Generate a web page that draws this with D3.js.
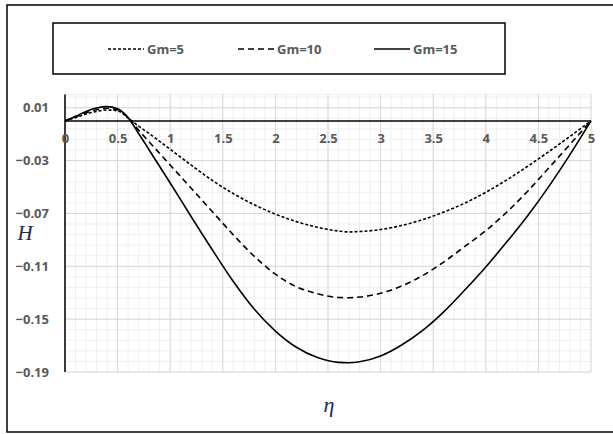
<!DOCTYPE html>
<html>
<head>
<meta charset="utf-8">
<script src="https://cdn.jsdelivr.net/npm/d3@7"></script>
<style>
  html, body { margin: 0; padding: 0; background: #fff; }
  svg { display: block; }
</style>
</head>
<body>
<svg id="chart" width="613" height="434"></svg>
<script>
// eta positions shared by all series
const eta = [0, 0.1, 0.2, 0.3, 0.4, 0.5, 0.6, 0.7, 0.8, 0.9, 1.0, 1.2, 1.4, 1.6, 1.8, 2.0,
             2.2, 2.4, 2.6, 2.7, 2.8, 3.0, 3.2, 3.4, 3.6, 3.8, 4.0, 4.2, 4.4, 4.6, 4.8, 5.0];

// H(eta) for each Grashof number
const gm5  = [0, 0.0025, 0.0052, 0.0072, 0.0083, 0.0077, 0.0022, -0.0040, -0.0095, -0.0155, -0.0215,
              -0.0335, -0.0450, -0.0550, -0.0635, -0.0705, -0.0762, -0.0805, -0.0833, -0.0840, -0.0837,
              -0.0822, -0.0791, -0.0747, -0.0690, -0.0622, -0.0540, -0.0446, -0.0342, -0.0232, -0.0117, 0];
const gm10 = [0, 0.0030, 0.0062, 0.0085, 0.0096, 0.0085, 0.0025, -0.0070, -0.0158, -0.0246, -0.0334,
              -0.0510, -0.0686, -0.0862, -0.1025, -0.1160, -0.1255, -0.1308, -0.1336, -0.1338, -0.1333,
              -0.1304, -0.1249, -0.1170, -0.1068, -0.0950, -0.0830, -0.0690, -0.0530, -0.0355, -0.0178, 0];
const gm15 = [0, 0.0035, 0.0072, 0.0098, 0.0108, 0.0092, 0.0025, -0.0095, -0.0220, -0.0345, -0.0470,
              -0.0725, -0.0975, -0.1215, -0.1425, -0.1590, -0.1713, -0.1791, -0.1827, -0.1830, -0.1823,
              -0.1779, -0.1696, -0.1585, -0.1445, -0.1280, -0.1105, -0.0915, -0.0715, -0.0495, -0.0255, 0];

const seriesNames = ["Gm=5", "Gm=10", "Gm=15"];
const xTicks = [0, 0.5, 1, 1.5, 2, 2.5, 3, 3.5, 4, 4.5, 5];
const yTicks = [0.01, -0.03, -0.07, -0.11, -0.15, -0.19];

const series = [
  { name: seriesNames[0], values: gm5,  dash: "3,2", width: 1.6 },
  { name: seriesNames[1], values: gm10, dash: "6,4", width: 1.6 },
  { name: seriesNames[2], values: gm15, dash: null,  width: 1.6 }
];

const svg = d3.select("#chart");
const tickColor = "#595959";
const tickFont = "'Open Sans', 'Liberation Sans', sans-serif";

// outer frame (right edge runs past the canvas)
svg.append("rect")
  .attr("x", 7).attr("y", 5).attr("width", 620).attr("height", 427)
  .attr("fill", "none").attr("stroke", "#000").attr("stroke-width", 1.5);

// plot scales
const x = d3.scaleLinear().domain([0, 5]).range([65, 591]);
const y = d3.scaleLinear().domain([-0.19, 0.02]).range([372, 94.5]);

const plot = svg.append("g");

// minor grid
const xMinor = d3.range(0, 5.0001, 0.1);
const yMinor = d3.range(-0.19, 0.0201, 0.008);
plot.append("g").selectAll("line").data(xMinor).join("line")
  .attr("x1", d => x(d)).attr("x2", d => x(d))
  .attr("y1", y(0.02)).attr("y2", y(-0.19))
  .attr("stroke", "#efefef").attr("stroke-width", 1);
plot.append("g").selectAll("line").data(yMinor.concat([0.02])).join("line")
  .attr("x1", x(0)).attr("x2", x(5))
  .attr("y1", d => y(d)).attr("y2", d => y(d))
  .attr("stroke", "#efefef").attr("stroke-width", 1);

// major grid
plot.append("g").selectAll("line").data(xTicks).join("line")
  .attr("x1", d => x(d)).attr("x2", d => x(d))
  .attr("y1", y(0.02)).attr("y2", y(-0.19))
  .attr("stroke", "#d9d9d9").attr("stroke-width", 1);
plot.append("g").selectAll("line").data(yTicks).join("line")
  .attr("x1", x(0)).attr("x2", x(5))
  .attr("y1", d => y(d)).attr("y2", d => y(d))
  .attr("stroke", "#d9d9d9").attr("stroke-width", 1);

// axes: vertical at eta=0, horizontal at H=0
const yAxis = d3.axisLeft(y).tickValues(yTicks).tickSize(0).tickPadding(16)
  .tickFormat(d3.format(".2f"));
const gy = plot.append("g").attr("transform", `translate(${x(0)},0)`).call(yAxis);
gy.select(".domain").remove();
gy.append("line").attr("x1", 0).attr("x2", 0).attr("y1", y(0.02)).attr("y2", y(-0.19))
  .attr("stroke", "#000").attr("stroke-width", 1.5);
gy.selectAll(".tick text")
  .attr("fill", tickColor).style("font-family", tickFont)
  .style("font-size", "13px").style("font-weight", "700");

const xAxis = d3.axisBottom(x).tickValues(xTicks).tickSize(0).tickPadding(13)
  .tickFormat(d => String(d));
const gx = plot.append("g").attr("transform", `translate(0,${y(0)})`).call(xAxis);
gx.select(".domain").remove();
gx.append("line").attr("x1", x(0)).attr("x2", x(5)).attr("y1", 0).attr("y2", 0)
  .attr("stroke", "#000").attr("stroke-width", 1.5);
gx.selectAll(".tick text")
  .attr("fill", tickColor).style("font-family", tickFont)
  .style("font-size", "13px").style("font-weight", "700");

// curves
const line = d3.line()
  .x((d, i) => x(eta[i]))
  .y(d => y(d))
  .curve(d3.curveMonotoneX);

plot.append("g").selectAll("path").data(series).join("path")
  .attr("d", d => line(d.values))
  .attr("fill", "none")
  .attr("stroke", "#000")
  .attr("stroke-width", d => d.width)
  .attr("stroke-dasharray", d => d.dash);

// axis titles
svg.append("text").attr("x", 25).attr("y", 240)
  .attr("text-anchor", "middle")
  .style("font-family", "'Liberation Serif', 'DejaVu Serif', serif")
  .style("font-style", "italic").style("font-size", "21px")
  .attr("fill", "#1d2a4a").text("H");
svg.append("text").attr("x", 329).attr("y", 412)
  .attr("text-anchor", "middle")
  .style("font-family", "'Liberation Serif', 'DejaVu Serif', serif")
  .style("font-style", "italic").style("font-size", "22px")
  .attr("fill", "#1d2a4a").text("η");

// legend
const legend = svg.append("g");
legend.append("rect")
  .attr("x", 53).attr("y", 23).attr("width", 452).attr("height", 51)
  .attr("fill", "#fff").attr("stroke", "#000").attr("stroke-width", 1.5);
const legendX = [108, 238, 374];
const items = legend.selectAll("g.item").data(series).join("g")
  .attr("class", "item")
  .attr("transform", (d, i) => `translate(${legendX[i]},49)`);
items.append("line")
  .attr("x1", 0).attr("x2", 36).attr("y1", 0).attr("y2", 0)
  .attr("stroke", "#000").attr("stroke-width", d => d.width)
  .attr("stroke-dasharray", d => d.dash);
items.append("text")
  .attr("x", 39).attr("y", 0).attr("dy", "0.35em")
  .attr("fill", tickColor).style("font-family", tickFont)
  .style("font-size", "13px").style("font-weight", "700")
  .text(d => d.name);
</script>
</body>
</html>
